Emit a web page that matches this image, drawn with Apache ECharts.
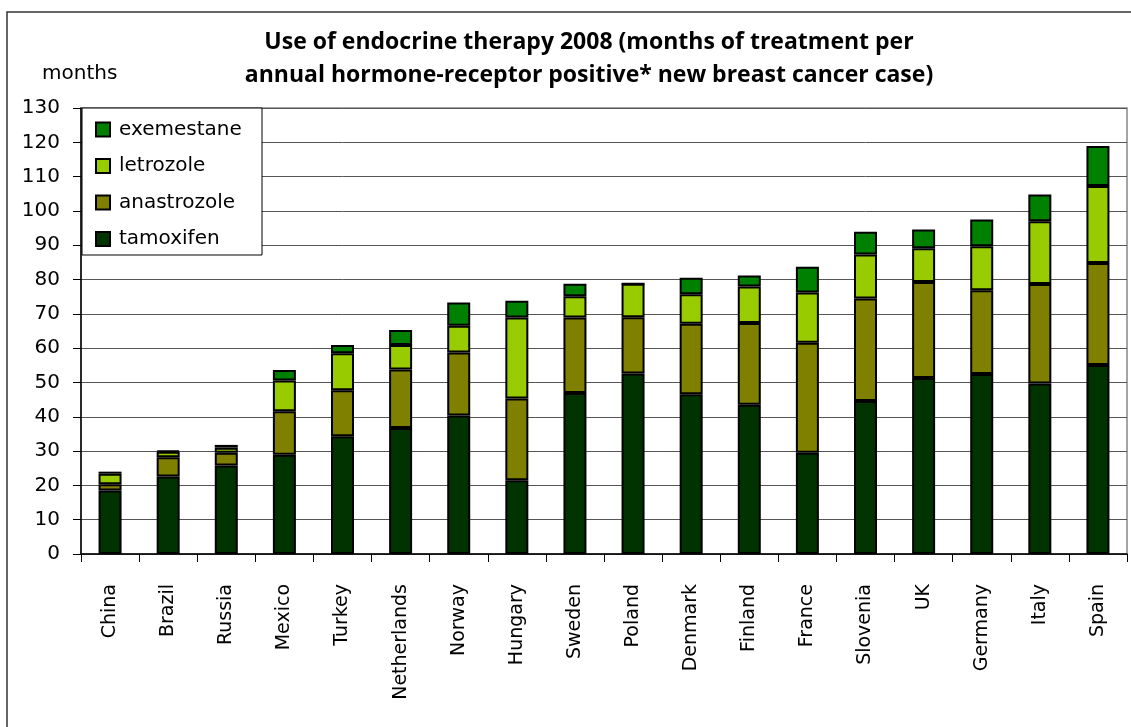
<!DOCTYPE html>
<html>
<head>
<meta charset="utf-8">
<script src="https://cdn.jsdelivr.net/npm/echarts@6/dist/echarts.min.js"></script>
<style>
  html, body { margin: 0; padding: 0; background: #fff; }
  #chart { width: 1131px; height: 727px; }
</style>
</head>
<body>
<div id="chart"></div>
<script>
// Countries, ordered by total months of endocrine therapy
const countries = ['China', 'Brazil', 'Russia', 'Mexico', 'Turkey', 'Netherlands', 'Norway', 'Hungary', 'Sweden',
  'Poland', 'Denmark', 'Finland', 'France', 'Slovenia', 'UK', 'Germany', 'Italy', 'Spain'];

// Months of treatment per hormone-receptor positive case, by drug
const tamoxifen   = [18.5, 22.6, 25.8, 28.9, 34.3, 36.7, 40.4, 21.5, 46.9, 52.6, 46.6, 43.5, 29.5, 44.6, 51.3, 52.5, 49.7, 55.1];
const anastrozole = [1.8, 5.6, 3.7, 12.7, 13.4, 17.1, 18.3, 23.8, 22.0, 16.4, 20.5, 23.8, 32.1, 29.9, 28.0, 24.4, 29.0, 29.7];
const letrozole   = [3.1, 1.6, 1.5, 9.0, 10.8, 7.1, 7.8, 23.6, 6.2, 9.8, 8.6, 10.7, 14.6, 12.8, 9.8, 12.8, 18.3, 22.5];
const exemestane  = [0.6, 0.3, 0.8, 3.0, 2.4, 4.4, 6.8, 4.9, 3.7, 0, 4.8, 3.2, 7.5, 6.6, 5.5, 7.8, 7.8, 11.6];

const yTicks = { min: 0, max: 130, interval: 10 };

const drugs = [
  { name: 'tamoxifen',   data: tamoxifen,   color: '#003300' },
  { name: 'anastrozole', data: anastrozole, color: '#808000' },
  { name: 'letrozole',   data: letrozole,   color: '#99CC00' },
  { name: 'exemestane',  data: exemestane,  color: '#008000' }
];

const chart = echarts.init(document.getElementById('chart'), null, { renderer: 'canvas' });

chart.setOption({
  animation: false,
  backgroundColor: '#fff',
  title: {
    text: 'Use of endocrine therapy 2008 (months of treatment per\nannual hormone-receptor positive* new breast cancer case)',
    left: 584,
    top: 21,
    textAlign: 'center',
    textStyle: {
      fontFamily: 'Open Sans',
      fontWeight: 'bold',
      fontSize: 23,
      lineHeight: 33,
      color: '#000'
    }
  },
  graphic: [
    {
      type: 'rect',
      z: 0,
      silent: true,
      shape: { x: 7, y: 12, width: 1300, height: 900 },
      style: { fill: null, stroke: '#333', lineWidth: 1.5 }
    },
    {
      type: 'text',
      z: 10,
      left: 42,
      top: 64,
      style: { text: 'months', font: '20px "DejaVu Sans"', fill: '#000' }
    },
    {
      type: 'rect',
      z: 10,
      silent: true,
      shape: { x: 82, y: 108, width: 180, height: 147 },
      style: { fill: '#fff', stroke: '#000', lineWidth: 1 }
    }
  ],
  legend: {
    z: 20,
    orient: 'vertical',
    left: 82,
    top: 108,
    padding: [10, 10, 10, 13],
    itemWidth: 14,
    itemHeight: 14,
    itemGap: 13.5,
    icon: 'rect',
    data: ['exemestane', 'letrozole', 'anastrozole', 'tamoxifen'],
    textStyle: {
      fontFamily: 'DejaVu Sans',
      fontSize: 20,
      lineHeight: 23,
      color: '#000',
      padding: [0, 0, 0, 4]
    }
  },
  grid: {
    left: 81,
    right: 4,
    top: 108,
    bottom: 173,
    show: true,
    borderColor: '#888',
    borderWidth: 1.5
  },
  xAxis: {
    type: 'category',
    data: countries,
    axisLine: { lineStyle: { color: '#000', width: 1.5 } },
    axisTick: { show: true, length: 8, lineStyle: { color: '#000' } },
    axisLabel: {
      rotate: 90,
      margin: 30,
      interval: 0,
      color: '#000',
      fontFamily: 'DejaVu Sans',
      fontSize: 19
    }
  },
  yAxis: {
    type: 'value',
    min: yTicks.min,
    max: yTicks.max,
    interval: yTicks.interval,
    axisLine: { show: true, lineStyle: { color: '#000', width: 1.5 } },
    axisTick: { show: true, length: 8, lineStyle: { color: '#000' } },
    axisLabel: {
      color: '#000',
      fontFamily: 'DejaVu Sans',
      fontSize: 20,
      margin: 21
    },
    splitLine: { lineStyle: { color: '#555', width: 1 } }
  },
  series: drugs.map(d => ({
    name: d.name,
    type: 'bar',
    stack: 'total',
    data: d.data,
    barWidth: 23,
    itemStyle: { color: d.color, borderColor: '#000', borderWidth: 2 },
    emphasis: { disabled: true }
  }))
});
</script>
</body>
</html>
